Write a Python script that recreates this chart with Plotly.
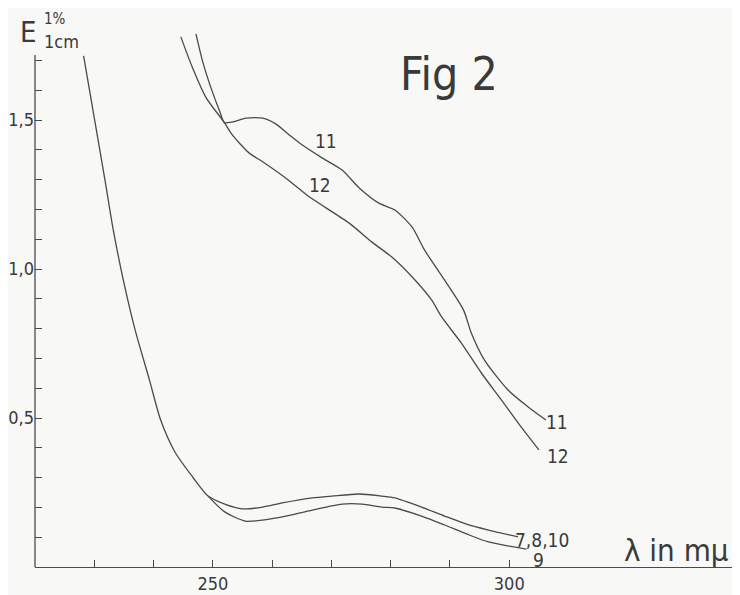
import plotly.graph_objects as go

# ---- data (wavelength in mμ, E 1%/1cm) ----
wl_common = [228.2, 231.8, 233.2, 234.9, 236.9, 239.3, 241.2, 243.6, 246.6, 249.2]
e_common = [1.715, 1.299, 1.131, 0.963, 0.795, 0.628, 0.493, 0.386, 0.302, 0.238]

wl_7810 = [252.0, 255.0, 258.4, 261.7, 266.8, 270.1, 274.7, 278.5, 280.7, 285.2, 289.1, 292.8, 296.5, 301.5]
e_7810 = [0.211, 0.195, 0.201, 0.215, 0.232, 0.238, 0.245, 0.238, 0.232, 0.201, 0.171, 0.144, 0.124, 0.101]

wl_9 = [252.0, 255.5, 258.7, 261.7, 266.8, 271.8, 275.2, 278.5, 280.7, 285.2, 289.1, 292.8, 296.5, 302.9]
e_9 = [0.185, 0.154, 0.158, 0.168, 0.191, 0.211, 0.211, 0.201, 0.198, 0.171, 0.141, 0.111, 0.084, 0.060]

wl_11 = [247.15, 248.3, 249.7, 251.2, 251.96, 253.4, 255.6, 258.4, 260.6, 262.9, 265.1, 268.5, 271.8,
         274.7, 278.0, 280.7, 283.6, 285.7, 289.1, 292.3, 293.6, 295.8, 299.8, 303.2, 306.2]
e_11 = [1.789, 1.695, 1.607, 1.527, 1.491, 1.494, 1.506, 1.506, 1.487, 1.450, 1.416, 1.372, 1.332,
        1.272, 1.221, 1.198, 1.141, 1.064, 0.963, 0.862, 0.785, 0.695, 0.594, 0.537, 0.493]

wl_12 = [244.6, 246.6, 248.8, 251.96, 253.1, 254.5, 256.2, 258.4, 261.2, 263.4, 266.2, 273.0,
         276.8, 280.2, 284.1, 286.9, 288.6, 291.9, 295.3, 298.7, 302.0, 305.0]
e_12 = [1.779, 1.674, 1.577, 1.491, 1.455, 1.422, 1.388, 1.360, 1.321, 1.288, 1.243, 1.154,
        1.091, 1.040, 0.963, 0.896, 0.839, 0.752, 0.651, 0.560, 0.470, 0.393]

x_ticks = [230, 240, 250, 260, 270, 280, 290, 300]
x_ticktext = ["", "", "250", "", "", "", "", "300"]
y_ticks = [0.1, 0.2, 0.3, 0.4, 0.5, 0.6, 0.7, 0.8, 0.9, 1.0, 1.1, 1.2, 1.3, 1.4, 1.5, 1.6, 1.7]
y_ticktext = ["", "", "", "", "0,5", "", "", "", "", "1,0", "", "", "", "", "1,5", "", ""]

INK = "#4a4a4a"
TXT = "#3a3a3a"
BG = "#f8f8f6"
FONT = "DejaVu Sans Condensed, DejaVu Sans, sans-serif"

# page body has an 8px margin; figure is sized to fill the rest of the window
W, H = 732, 587
L, B = 24, 28

fig = go.Figure()
line = dict(color=INK, width=1.3, shape="spline", smoothing=0.7)

fig.add_trace(go.Scatter(x=wl_common + wl_7810, y=e_common + e_7810, mode="lines", line=line))
fig.add_trace(go.Scatter(x=wl_common[-1:] + wl_9, y=e_common[-1:] + e_9, mode="lines", line=line))
fig.add_trace(go.Scatter(x=wl_11, y=e_11, mode="lines", line=line))
fig.add_trace(go.Scatter(x=wl_12, y=e_12, mode="lines", line=line))

# y-axis line (stops just above the top tick)
fig.add_shape(type="line", x0=0, x1=0, y0=0, y1=1.718, xref="paper", yref="y",
              line=dict(color=INK, width=1.3))

labels = [
    (269.1, 1.430, "11", 19),
    (268.0, 1.282, "12", 19),
    (308.05, 0.487, "11", 19),
    (308.2, 0.372, "12", 19),
    (305.5, 0.091, "7,8,10", 19),
    (305.0, 0.023, "9", 19),
    (328.2, 0.057, "λ in mμ", 31),
    (289.8, 1.654, "Fig 2", 46),
]
for x, y, t, s in labels:
    fig.add_annotation(x=x, y=y, text=t, showarrow=False, xanchor="center", yanchor="middle",
                       font=dict(family=FONT, size=s, color=TXT), xref="x", yref="y")


def paper_xy(X, Y):
    # page pixel -> paper coords of the plot area
    return (X - 32) / 708, (567 - Y) / 559


for X, Y, t, s in [(25, 32, "E", 29), (52, 19, "1%", 15), (59, 41, "1cm", 18)]:
    px, py = paper_xy(X, Y)
    fig.add_annotation(x=px, y=py, text=t, showarrow=False, xanchor="center", yanchor="middle",
                       xref="paper", yref="paper", font=dict(family=FONT, size=s, color=TXT))

fig.update_layout(
    width=W, height=H,
    margin=dict(l=L, r=0, t=0, b=B),
    paper_bgcolor=BG, plot_bgcolor=BG,
    showlegend=False,
    font=dict(family=FONT, color=TXT),
)
fig.update_xaxes(range=[220, 338.93], showgrid=False, zeroline=False, showline=True,
                 linecolor=INK, linewidth=1.3, ticks="inside", ticklen=7, tickcolor=INK,
                 tickwidth=1.2, tickmode="array", tickvals=x_ticks, ticktext=x_ticktext,
                 tickfont=dict(family=FONT, size=18, color=TXT))
fig.update_yaxes(range=[0, 559 / 298], showgrid=False, zeroline=False, showline=False,
                 ticks="inside", ticklen=7, tickcolor=INK, tickwidth=1.2,
                 tickmode="array", tickvals=y_ticks, ticktext=y_ticktext,
                 tickfont=dict(family=FONT, size=18, color=TXT))

fig.write_html("out.html")
